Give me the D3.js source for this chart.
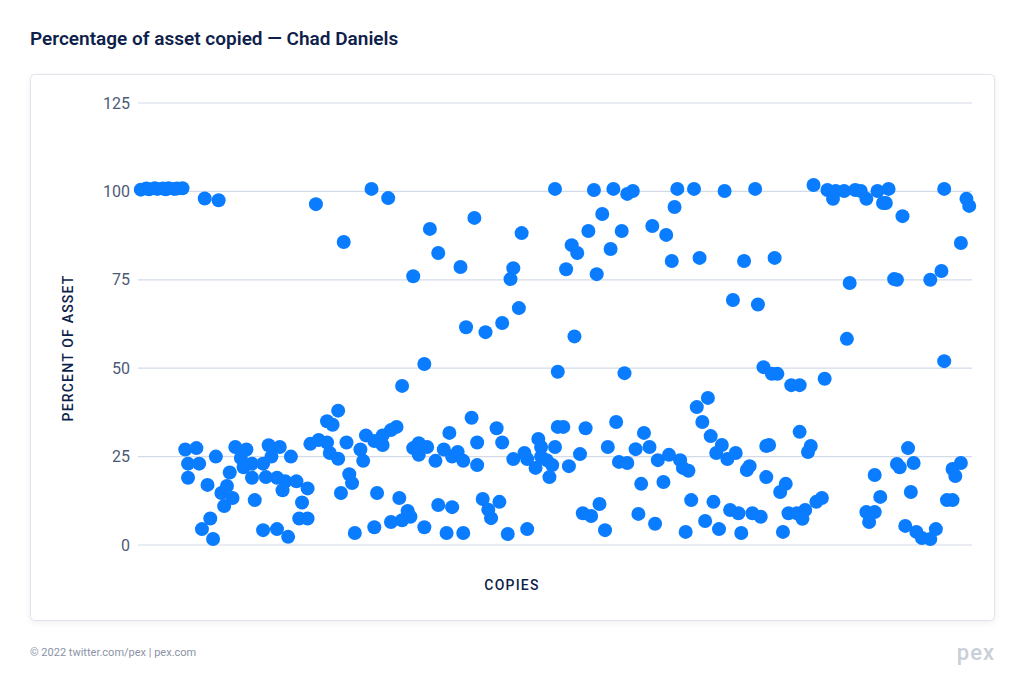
<!DOCTYPE html>
<html><head><meta charset="utf-8">
<script src="https://cdn.jsdelivr.net/npm/d3@7"></script>
<style>body{margin:0;background:#fff;font-family:Roboto,"Open Sans",sans-serif;}</style>
</head><body>
<svg id="c" width="1024" height="680"></svg>
<script>
const yTicks = [0,25,50,75,100,125];
const copies = [1,3,4,6,7,9,10,11,13,14,16,24,29,
17,21,18,22,18,28,25,33,23,26,27,30,32,34,31,35,39,37,38,41,45,41,42,47,51,48,55,46,50,53,57,52,61,59,58,61,45,50,54,62,65,68,69,72,68,70,72,75,76,73,64,74,
84,90,105,108,99,121,116,138,135,134,137,131,125,118,103,95,150,151,77,80,81,82,85,88,88,91,93,86,78,85,91,94,97,95,98,103,99,101,101,104,107,110,112,113,115,117,120,122,122,129,131,108,113,111,117,124,130,126,127,133,140,135,139,140,144,145,145,143,147,149,148,150,151,
164,171,176,178,194,200,211,222,193,167,162,174,185,190,156,158,170,154,165,192,202,218,214,223,157,175,225,153,161,172,159,169,173,176,179,182,184,187,191,195,196,198,155,201,205,203,206,210,208,212,215,219,220,226,226,181,189,160,163,166,168,180,186,199,207,197,204,209,213,216,217,221,224,
243,248,251,254,258,260,250,262,266,270,268,269,275,290,298,299,296,229,256,272,273,285,289,255,290,228,230,235,238,247,238,242,241,227,233,231,234,237,240,239,232,244,246,262,265,263,265,267,273,274,277,279,278,276,280,282,285,287,291,293,293,294,296];
const percents = [100.5,100.8,100.6,100.9,100.7,100.8,100.6,100.9,100.7,100.8,100.9,98,97.5,
27,27.4,23,23,19,25,17,20.5,4.5,7.5,1.7,14.7,16.7,13.3,11,27.7,27,24.6,22,23,23,19,12.7,28.2,27.7,25,25,19.2,19,18,18,15.5,16,12,7.5,7.5,4.2,4.5,2.3,28.6,29.7,29,26,24.4,35,34,38,29,20,14.7,96.4,85.7,
100.7,98.1,89.4,82.6,76,92.5,78.6,88.2,78.3,75.2,67,62.8,60.2,61.6,51.2,45,100.7,49,17.5,27,23.8,31,29.4,28.3,31,32.5,33.4,14.7,3.4,5,6.5,13.3,9.6,7,8,5,27.4,28.8,25.5,27.7,23.8,27,31.7,25,26.3,23.8,36,29,22.6,33,29,11.3,10.7,3.4,3.4,13,12.2,10,7.6,3.1,4.5,24.3,26,24.3,30,27.7,25,21.8,24,22.6,19.2,27.7,33.4,
100.4,100.7,99.3,100.1,100.7,100.7,100.1,100.7,95.6,93.6,88.8,88.8,90.2,87.7,84.8,82.6,83.7,78,76.6,80.3,81.2,80.3,69.3,68,59,48.6,50.3,33.4,33,34.8,25.7,27.7,23.5,23.2,27.1,31.7,27.7,24,25.5,24,21.8,21,22.3,39,41.6,34.8,30.8,28.3,26,24.3,26,21.2,22.3,19.2,28,17.3,17.8,9,8.2,11.6,4.2,8.8,6,12.7,12.2,3.7,6.8,4.5,9.9,9,3.4,9,8,
101.8,100.4,100.1,100.1,100.4,100.1,97.9,97.9,100.1,100.7,96.7,96.7,93,100.7,97.9,95.9,85.4,81.2,74.1,75.2,75,75,77.5,58.3,52,48.4,48.4,45.2,45.2,47,32,28,26.3,28.3,17.3,15,9,9,9.9,7.4,3.7,12.2,13.3,9.3,9.3,6.5,19.8,13.6,22.9,22,27.4,23.2,15,5.4,3.7,2,1.7,4.5,12.7,12.7,21.5,19.5,23.2];

const svg = d3.select("#c");
const navy = "#0f1f4b";
svg.append("text").attr("x",30).attr("y",45).attr("fill",navy)
  .attr("font-size",19).attr("font-weight",600).text("Percentage of asset copied — Chad Daniels");
svg.append("rect").attr("x",30.5).attr("y",74.5).attr("width",964).attr("height",546).attr("rx",4)
  .attr("fill","#fff").attr("stroke","#dfe4ec").style("filter","drop-shadow(0 2px 3px rgba(0,0,0,0.06))");

const x = d3.scaleLinear().domain([0,300]).range([138,972]);
const y = d3.scaleLinear().domain([0,125]).range([545,103]);

const g = svg.append("g");
g.selectAll("line.grid").data(yTicks).join("line")
  .attr("x1",138).attr("x2",972).attr("y1",d=>y(d)).attr("y2",d=>y(d))
  .attr("stroke","#d3dbe8").attr("stroke-width",1.2);
const ax = svg.append("g").attr("transform","translate(130,0)")
  .call(d3.axisLeft(y).tickValues(yTicks).tickSize(0).tickPadding(0));
ax.select(".domain").remove();
ax.selectAll("text").attr("font-size",16).attr("fill","#4c5a78").attr("font-family","Roboto,sans-serif");

svg.append("text").attr("transform","translate(73,348) rotate(-90)").attr("text-anchor","middle")
  .attr("fill",navy).attr("font-size",14).attr("letter-spacing",1.2).attr("font-weight",500).text("PERCENT OF ASSET");
svg.append("text").attr("x",512).attr("y",590).attr("text-anchor","middle")
  .attr("fill",navy).attr("font-size",14).attr("letter-spacing",1.2).attr("font-weight",500).text("COPIES");

g.selectAll("circle").data(copies.map((c,i)=>[c,percents[i]])).join("circle")
  .attr("cx",d=>x(d[0])).attr("cy",d=>y(d[1])).attr("r",7).attr("fill","#0a7cff");

svg.append("text").attr("x",30).attr("y",656).attr("fill","#8a93a6").attr("font-size",11)
  .text("© 2022  twitter.com/pex | pex.com");
svg.append("text").attr("x",995).attr("y",660).attr("text-anchor","end").attr("fill","#c9ced8")
  .attr("font-size",22).attr("letter-spacing",1).attr("font-weight",500).text("pex");
</script>
</body></html>
